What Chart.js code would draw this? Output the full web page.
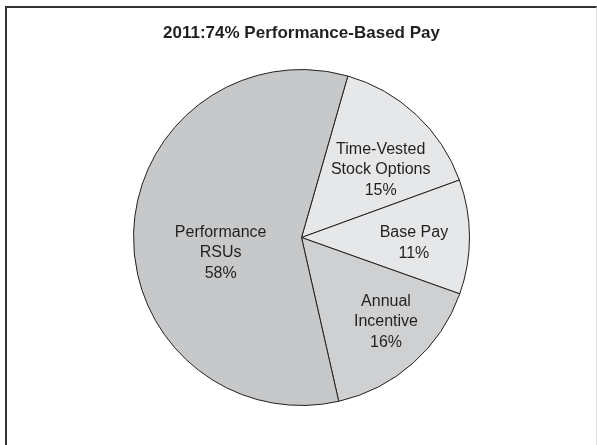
<!DOCTYPE html>
<html>
<head>
<meta charset="utf-8">
<title>2011 Pay Mix</title>
<script src="https://cdn.jsdelivr.net/npm/chart.js@4/dist/chart.umd.min.js"></script>
<style>
  body { margin: 0; background: #fff; }
  #wrap { position: relative; width: 597px; height: 445px; }
  #frame {
    position: absolute; left: 5px; top: 6px; right: 0; bottom: 0;
    border-left: 2px solid #333; border-top: 2px solid #333; border-right: 1px solid #ddd;
  }
  canvas { position: absolute; left: 0; top: 0; }
</style>
</head>
<body>
<div id="wrap">
  <div id="frame"></div>
  <canvas id="chart-pay" width="597" height="445"></canvas>
</div>
<script>
const TITLE = '2011:74% Performance-Based Pay';

// slices run clockwise from just right of 12 o'clock
const LABELS = [
  ['Time-Vested', 'Stock Options'],
  ['Base Pay'],
  ['Annual', 'Incentive'],
  ['Performance', 'RSUs'],
];
const SHARES = [15, 11, 16, 58];
const COLORS = ['#e6e7e9', '#e6e7e9', '#cfd0d2', '#c7c8ca'];

// where each label sits: [degrees off the slice middle, fraction of radius]
const LABEL_POS = [
  [6.5, 0.62],
  [3, 0.67],
  [-3.5, 0.71],
  [-12.5, 0.49],
];

const FONT = '"Liberation Sans", Arial, Helvetica, sans-serif';

// writes the name and percent inside each slice
const sliceLabels = {
  id: 'sliceLabels',
  afterDatasetsDraw(chart) {
    const ctx = chart.ctx;
    const arcs = chart.getDatasetMeta(0).data;
    ctx.save();
    ctx.font = '16px ' + FONT;
    ctx.fillStyle = '#231f20';
    ctx.textAlign = 'center';
    ctx.textBaseline = 'middle';
    arcs.forEach((arc, i) => {
      const { x, y, startAngle, endAngle, outerRadius } = arc.getProps(['x', 'y', 'startAngle', 'endAngle', 'outerRadius'], true);
      const mid = (startAngle + endAngle) / 2 + LABEL_POS[i][0] * Math.PI / 180;
      const r = outerRadius * LABEL_POS[i][1];
      const cx = x + Math.cos(mid) * r;
      const cy = y + Math.sin(mid) * r;
      const lines = [...LABELS[i], SHARES[i] + '%'];
      const lh = 20.5;
      lines.forEach((t, k) => {
        ctx.fillText(t, cx, cy + (k - (lines.length - 1) / 2) * lh);
      });
    });
    ctx.restore();
  }
};

new Chart(document.getElementById('chart-pay').getContext('2d'), {
  type: 'pie',
  data: {
    labels: LABELS.map(l => l.join(' ')),
    datasets: [{
      data: SHARES,
      backgroundColor: COLORS,
      borderColor: '#231f20',
      borderWidth: 1,
    }]
  },
  options: {
    responsive: false,
    animation: false,
    rotation: 16,
    layout: {
      padding: { left: 133, right: 127, top: 0, bottom: 39 }
    },
    plugins: {
      legend: { display: false },
      tooltip: { enabled: false },
      title: {
        display: true,
        text: TITLE,
        color: '#231f20',
        font: { family: FONT, size: 17, weight: 'bold' },
        padding: { top: 23, bottom: 25.6 },
      }
    }
  },
  plugins: [sliceLabels]
});
</script>
</body>
</html>
